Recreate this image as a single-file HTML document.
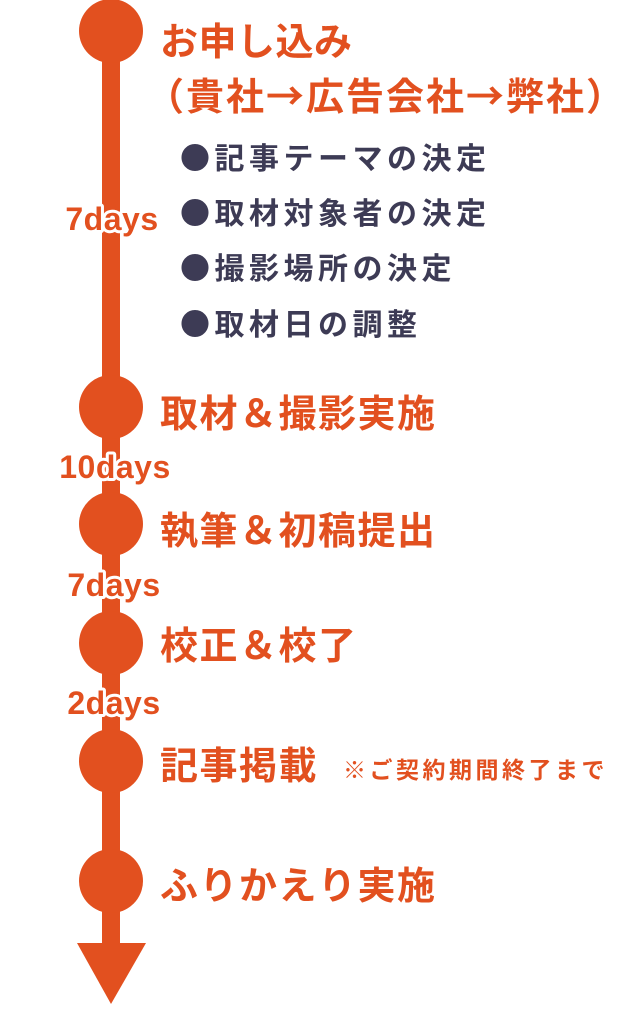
<!DOCTYPE html>
<html><head><meta charset="utf-8"><style>
html,body{margin:0;padding:0;background:#fff;}
svg{display:block}
text{font-family:"Noto Sans CJK JP","Liberation Sans",sans-serif;font-weight:bold;}
.o{fill:#e2501f}
.n{fill:#3d3b55}
.d{font-family:"Liberation Sans",sans-serif;fill:#e2501f;stroke:#fff;stroke-width:6;paint-order:stroke;stroke-linejoin:round}
</style></head><body>
<svg width="644" height="1017" viewBox="0 0 644 1017">
<rect x="102" y="30" width="18" height="920" fill="#e2501f"/>
<polygon points="77,943 146,943 111,1004" fill="#e2501f"/>
<g fill="#e2501f">
<circle cx="111" cy="31" r="32"/>
<circle cx="111" cy="407" r="32"/>
<circle cx="111" cy="524" r="32"/>
<circle cx="111" cy="643" r="32"/>
<circle cx="111" cy="761" r="32"/>
<circle cx="111" cy="881" r="32"/>
</g>
<text class="o" x="160" y="55" font-size="38" letter-spacing="0.5">お申し込み</text>
<text class="o" x="146" y="110" font-size="38" letter-spacing="2">（貴社→広告会社→弊社）</text>
<text class="n" x="180" y="169" font-size="30" letter-spacing="4.5">●記事テーマの決定</text>
<text class="n" x="180" y="224" font-size="30" letter-spacing="4.5">●取材対象者の決定</text>
<text class="n" x="180" y="279" font-size="30" letter-spacing="4.5">●撮影場所の決定</text>
<text class="n" x="180" y="335" font-size="30" letter-spacing="4.5">●取材日の調整</text>
<text class="o" x="160" y="427" font-size="38" letter-spacing="1.5">取材＆撮影実施</text>
<text class="o" x="160" y="544" font-size="38" letter-spacing="1.5">執筆＆初稿提出</text>
<text class="o" x="160" y="659" font-size="38" letter-spacing="1.5">校正＆校了</text>
<text class="o" x="160" y="779" font-size="38" letter-spacing="1.5">記事掲載</text>
<text class="o" x="343" y="778" font-size="23" letter-spacing="3.5">※ご契約期間終了まで</text>
<text class="o" x="160" y="899" font-size="38" letter-spacing="1.5">ふりかえり実施</text>
<text class="d" x="112" y="230" font-size="32" letter-spacing="0.5" text-anchor="middle">7days</text>
<text class="d" x="115" y="478" font-size="32" letter-spacing="0.5" text-anchor="middle">10days</text>
<text class="d" x="114" y="596" font-size="32" letter-spacing="0.5" text-anchor="middle">7days</text>
<text class="d" x="114" y="714" font-size="32" letter-spacing="0.5" text-anchor="middle">2days</text>
</svg>
</body></html>
